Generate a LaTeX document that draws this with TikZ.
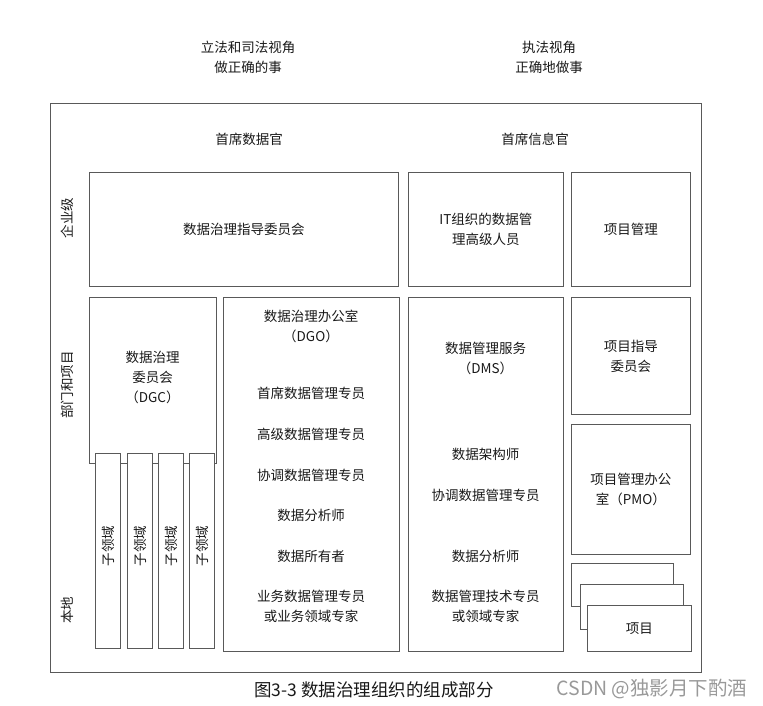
\documentclass[tikz,border=0pt]{standalone}
\usepackage{fontspec}
\newfontfamily\cjk{Noto Sans CJK SC}
\begin{document}
\begin{tikzpicture}[x=1pt,y=-1pt,
  box/.style={draw=black!65, line width=0.8pt, fill=white, inner sep=0pt, anchor=north west, align=center, font=\cjk\fontsize{13.5}{20}\selectfont, text=black!90},
  txt/.style={inner sep=0pt, align=center, font=\cjk\fontsize{13.5}{20}\selectfont, text=black!90},
  captext/.style={inner sep=0pt, font=\cjk\fontsize{17.5}{20}\selectfont, text=black!90}]
\useasboundingbox (0,0) rectangle (763,706);
% outer frame
\node[box, minimum width=651pt, minimum height=569pt] (outer) at (50,103) {};
% headings
\node[txt] (h1) at (248,57) {立法和司法视角\\做正确的事};
\node[txt] (h2) at (549,57) {执法视角\\正确地做事};
\node[txt] (cdo) at (249,139) {首席数据官};
\node[txt] (cio) at (535,139) {首席信息官};
% level labels
\node[txt, rotate=90] (l1) at (67,218) {企业级};
\node[txt, rotate=90] (l2) at (67,385) {部门和项目};
\node[txt, rotate=90] (l3) at (67,610) {本地};
% enterprise row
\node[box, minimum width=309pt, minimum height=114pt] (dgsc) at (89,172) {数据治理指导委员会};
\node[box, minimum width=155pt, minimum height=114pt] (itm) at (408,172) {IT组织的数据管\\理高级人员};
\node[box, minimum width=119pt, minimum height=114pt] (pm) at (571,172) {项目管理};
% DGC
\node[box, minimum width=127pt, minimum height=166pt] (dgc) at (89,297) {};
\node[txt] (dgct) at (152.5,377) {数据治理\\委员会\\（DGC）};
\node[box, minimum width=25pt, minimum height=195pt] (s1) at (95,453) {};
\node[box, minimum width=25pt, minimum height=195pt] (s2) at (127,453) {};
\node[box, minimum width=25pt, minimum height=195pt] (s3) at (158,453) {};
\node[box, minimum width=25pt, minimum height=195pt] (s4) at (189,453) {};
\foreach \s in {s1,s2,s3,s4} \node[txt, rotate=90] at ([yshift=5pt]\s.center) {子领域};
% DGO
\node[box, minimum width=176pt, minimum height=354pt] (dgo) at (223,297) {};
\node[txt] (dgo1) at (311,326) {数据治理办公室\\（DGO）};
\node[txt] (dgo2) at (311,393) {首席数据管理专员};
\node[txt] (dgo3) at (311,434) {高级数据管理专员};
\node[txt] (dgo4) at (311,475) {协调数据管理专员};
\node[txt] (dgo5) at (311,515) {数据分析师};
\node[txt] (dgo6) at (311,556) {数据所有者};
\node[txt] (dgo7) at (311,606) {业务数据管理专员\\或业务领域专家};
% DMS
\node[box, minimum width=155pt, minimum height=354pt] (dms) at (408,297) {};
\node[txt] (dms1) at (485.5,358) {数据管理服务\\（DMS）};
\node[txt] (dms2) at (485.5,454) {数据架构师};
\node[txt] (dms3) at (485.5,495) {协调数据管理专员};
\node[txt] (dms4) at (485.5,556) {数据分析师};
\node[txt] (dms5) at (485.5,606) {数据管理技术专员\\或领域专家};
% right column
\node[box, minimum width=119pt, minimum height=117pt] (psc) at (571,297) {项目指导\\委员会};
\node[box, minimum width=119pt, minimum height=130pt] (pmo) at (571,424) {项目管理办公\\室（PMO）};
\node[box, minimum width=102pt, minimum height=43pt] (pa) at (571,563) {};
\node[box, minimum width=103pt, minimum height=45pt] (pb) at (580,584) {};
\node[box, minimum width=104pt, minimum height=46pt] (pc) at (587,605) {项目};
% caption and watermark
\node[captext] (caption) at (374,690) {图3-3 数据治理组织的组成部分};
\node[captext, text=black!40, font=\cjk\fontsize{19.5}{22}\selectfont] (wm) at (652,689) {CSDN @独影月下酌酒};
\end{tikzpicture}
\end{document}
